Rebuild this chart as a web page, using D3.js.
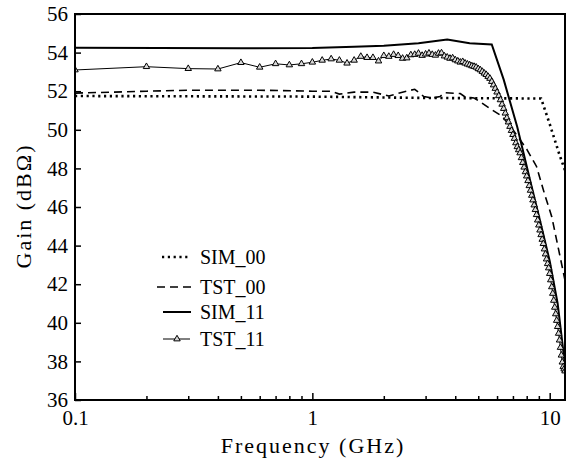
<!DOCTYPE html>
<html>
<head>
<meta charset="utf-8">
<script src="https://cdn.jsdelivr.net/npm/d3@7"></script>
<style>
  body { margin: 0; background: #fff; }
  text { font-family: "Liberation Serif", "Times New Roman", serif; fill: #000; }
</style>
</head>
<body>
<div id="chart"></div>
<script>
// values
const yTicks = [36, 38, 40, 42, 44, 46, 48, 50, 52, 54, 56];
const xMajor = [0.1, 1, 10];
const xMinor = [0.2, 0.3, 0.4, 0.5, 0.6, 0.7, 0.8, 0.9, 2, 3, 4, 5, 6, 7, 8, 9];

const sim00F = [0.1, 1, 3, 9.2, 10, 11, 11.6];
const sim00G = [51.75, 51.72, 51.65, 51.62, 50.3, 48.7, 47.9];

const tst00F = [0.1, 0.2, 0.3, 0.6, 1.0, 1.2, 1.3, 1.5, 1.8, 2.1, 2.35, 2.7, 2.95, 3.2, 3.45, 3.6, 4.2, 4.4, 4.8, 5.1, 5.6, 6.3, 7.0, 8.0, 8.8, 9.5, 10.2, 10.9, 11.6];
const tst00G = [51.9, 52.0, 52.05, 52.05, 52.0, 52.0, 51.85, 51.95, 51.95, 51.75, 51.92, 52.1, 51.72, 51.65, 51.72, 51.92, 51.88, 51.7, 51.65, 51.45, 51.1, 50.7, 50.0, 49.0, 48.1, 46.7, 45.5, 43.8, 42.2];

const sim11F = [0.1, 0.5, 1.0, 1.5, 2.0, 2.8, 3.7, 4.6, 5.7, 6.4, 7.3, 8.3, 9.1, 10.0, 10.8, 11.6];
const sim11G = [54.25, 54.22, 54.24, 54.3, 54.35, 54.48, 54.68, 54.48, 54.42, 52.6, 50.15, 47.3, 45.3, 43.2, 41.0, 37.8];

const tst11F = [0.1, 0.2, 0.3, 0.4, 0.5, 0.6, 0.7, 0.8, 0.9,
  1.0, 1.1, 1.2, 1.3, 1.4, 1.5, 1.6, 1.7, 1.8, 1.9,
  2.0, 2.1, 2.2, 2.3, 2.4, 2.5, 2.6, 2.7, 2.8, 2.9,
  3.0, 3.1, 3.2, 3.3, 3.4, 3.5, 3.6, 3.7, 3.8, 3.9,
  4.0, 4.1, 4.2, 4.3, 4.4, 4.5, 4.6, 4.7, 4.8, 4.9,
  5.0, 5.1, 5.2, 5.3, 5.4, 5.5, 5.6, 5.7, 5.8, 5.9,
  6.0, 6.1, 6.2, 6.3, 6.4, 6.5, 6.6, 6.7, 6.8, 6.9,
  7.0, 7.1, 7.2, 7.3, 7.4, 7.5, 7.6, 7.7, 7.8, 7.9,
  8.0, 8.1, 8.2, 8.3, 8.4, 8.5, 8.6, 8.7, 8.8, 8.9,
  9.0, 9.1, 9.2, 9.3, 9.4, 9.5, 9.6, 9.7, 9.8, 9.9,
  10.0, 10.1, 10.2, 10.3, 10.4, 10.5, 10.6, 10.7, 10.8, 10.9,
  11.0, 11.1, 11.2, 11.3, 11.4, 11.5, 11.6];
const tst11G = [53.10, 53.27, 53.17, 53.15, 53.48, 53.24, 53.42, 53.36, 53.42,
  53.50, 53.60, 53.67, 53.60, 53.45, 53.60, 53.80, 53.74, 53.74, 53.56,
  53.84, 53.80, 53.90, 53.84, 53.70, 53.72, 53.88, 53.90, 53.96, 53.85,
  53.92, 53.97, 53.90, 53.86, 53.96, 53.98, 53.82, 53.76, 53.70, 53.72,
  53.62, 53.56, 53.50, 53.53, 53.45, 53.40, 53.36, 53.31, 53.28, 53.24,
  53.16, 53.10, 53.02, 52.93, 52.86, 52.76, 52.66, 52.50, 52.32, 52.14,
  51.95, 51.76, 51.55, 51.32, 51.10, 50.86, 50.62, 50.40, 50.17, 49.96,
  49.75, 49.55, 49.32, 49.12, 48.96, 48.80, 48.55, 48.30, 48.06, 47.82,
  47.60, 47.36, 47.10, 46.86, 46.60, 46.36, 46.10, 45.86, 45.60, 45.32,
  45.06, 44.80, 44.56, 44.32, 44.10, 43.82, 43.56, 43.30, 43.06, 42.84,
  42.55, 42.22, 41.86, 41.52, 41.16, 40.80, 40.46, 40.12, 39.80, 39.45,
  39.10, 38.72, 38.32, 37.96, 37.72, 37.60, 37.50];

const legendNames = ["SIM_00", "TST_00", "SIM_11", "TST_11"];

const W = 568, H = 465;
const pL = 75, pR = 565, pT = 14, pB = 400;

const svg = d3.select("#chart").append("svg")
  .attr("width", W).attr("height", H)
  .style("background", "#fff");

const x = d3.scaleLog().domain([0.1, 11.6]).range([pL, pR]);
const y = d3.scaleLinear().domain([36, 56]).range([pB, pT]);

svg.append("clipPath").attr("id", "clip")
  .append("rect")
  .attr("x", pL).attr("y", pT)
  .attr("width", pR - pL).attr("height", pB - pT);

const zip = (fs, gs) => fs.map((f, i) => ({ f: f, g: gs[i] }));
const line = d3.line().x(d => x(d.f)).y(d => y(d.g));

const plot = svg.append("g").attr("clip-path", "url(#clip)");

const series = [
  { data: zip(sim00F, sim00G), width: 2.6, dash: "2.2,3.6" },
  { data: zip(tst00F, tst00G), width: 1.6, dash: "8,5" },
  { data: zip(sim11F, sim11G), width: 2, dash: null },
  { data: zip(tst11F, tst11G), width: 1, dash: null }
];

series.forEach(s => {
  plot.append("path")
    .datum(s.data)
    .attr("fill", "none")
    .attr("stroke", "#000")
    .attr("stroke-width", s.width)
    .attr("stroke-dasharray", s.dash)
    .attr("d", line);
});

const tri = d3.symbol().type(d3.symbolTriangle).size(18);
plot.selectAll(".mk")
  .data(zip(tst11F, tst11G))
  .enter().append("path")
  .attr("class", "mk")
  .attr("d", tri)
  .attr("transform", d => `translate(${x(d.f)},${y(d.g)})`)
  .attr("fill", "#d8d8d8")
  .attr("stroke", "#000")
  .attr("stroke-width", 1);

// axes
const xAxis = svg.append("g")
  .attr("transform", `translate(0,${pB})`)
  .call(d3.axisBottom(x).tickValues(xMajor).tickSize(-7).tickPadding(10)
    .tickFormat(d => d < 1 ? "0.1" : d3.format("d")(d)));
xAxis.select(".domain").remove();
xAxis.selectAll("text").style("font-size", "21px");
xAxis.selectAll("line").attr("stroke-width", 1.5);

const xMin = svg.append("g")
  .attr("transform", `translate(0,${pB})`)
  .call(d3.axisBottom(x).tickValues(xMinor).tickSize(-4).tickFormat(""));
xMin.select(".domain").remove();
xMin.selectAll("line").attr("stroke-width", 1.5);

const yAxis = svg.append("g")
  .attr("transform", `translate(${pL},0)`)
  .call(d3.axisLeft(y).tickValues(yTicks).tickSize(-6).tickPadding(7));
yAxis.select(".domain").remove();
yAxis.selectAll("text").style("font-size", "21px");
yAxis.selectAll("line").attr("stroke-width", 1.5);

// frame
svg.append("rect")
  .attr("x", pL).attr("y", pT)
  .attr("width", pR - pL).attr("height", pB - pT)
  .attr("fill", "none")
  .attr("stroke", "#000")
  .attr("stroke-width", 2);

svg.append("text")
  .attr("x", 313)
  .attr("y", 453)
  .attr("text-anchor", "middle")
  .style("font-size", "22px")
  .style("letter-spacing", "2px")
  .text("Frequency (GHz)");

svg.append("text")
  .attr("transform", `translate(31,206) rotate(-90)`)
  .attr("text-anchor", "middle")
  .style("font-size", "22px")
  .style("letter-spacing", "2px")
  .text("Gain (dBΩ)");

// legend
const legY = [257, 287, 312, 339];
const legX0 = [162, 157, 163, 163];
const legX1 = [189, 195, 191, 190];
const leg = svg.append("g");
series.forEach((s, i) => {
  leg.append("line")
    .attr("x1", legX0[i]).attr("x2", legX1[i])
    .attr("y1", legY[i]).attr("y2", legY[i])
    .attr("stroke", "#000")
    .attr("stroke-width", s.width)
    .attr("stroke-dasharray", s.dash);
  leg.append("text")
    .attr("x", 200)
    .attr("y", legY[i] + 7)
    .style("font-size", "20px")
    .text(legendNames[i]);
});
leg.append("path")
  .attr("d", tri)
  .attr("transform", `translate(177,${legY[3]})`)
  .attr("fill", "#d8d8d8")
  .attr("stroke", "#000")
  .attr("stroke-width", 1);
</script>
</body>
</html>
